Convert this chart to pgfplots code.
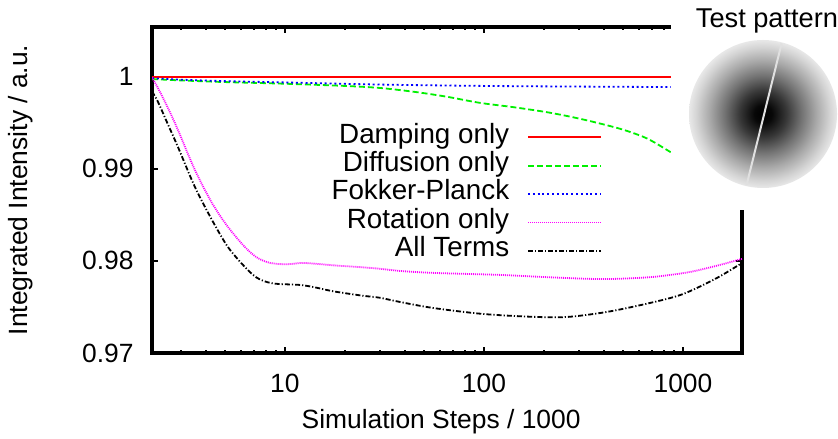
\documentclass[border=0pt]{standalone}
\usepackage{fontspec}
\setmainfont{Liberation Sans}
\usepackage{pgfplots}
\pgfplotsset{compat=1.18}
\definecolor{gpred}{HTML}{FF0000}
\definecolor{gpgreen}{HTML}{00F000}
\definecolor{gpblue}{HTML}{0000FF}
\definecolor{gpmag}{HTML}{FF00FF}
\pgfdeclareradialshading{testpat}{\pgfpoint{0bp}{0bp}}{%
  color(0bp)=(black); color(3bp)=(black!97); color(8bp)=(black!78);
  color(13bp)=(black!55); color(18bp)=(black!34); color(22.5bp)=(black!17);
  color(25bp)=(black!9); color(50bp)=(black!9)}
\begin{document}
\fontsize{13.2}{15}\selectfont
\begin{tikzpicture}
\begin{axis}[
  at={(76pt,42.5pt)}, anchor=south west,
  scale only axis, width=295pt, height=163pt,
  xmode=log, log basis x=10,
  xmin=2.15, xmax=1980, ymin=0.97, ymax=1.0054,
  xtick={10,100,1000}, xticklabels={10,100,1000},
  minor xtick={3,4,5,6,7,8,9,20,30,40,50,60,70,80,90,200,300,400,500,600,700,800,900},
  ytick={0.97,0.98,0.99,1}, yticklabels={0.97,0.98,0.99,1},
  xtick pos=both, ytick pos=both, tick align=inside,
  major tick length=3pt, minor tick length=1.7pt,
  every tick/.style={black, line width=1pt},
  axis line style={line width=1.6pt},
  xticklabel style={anchor=base, yshift=-19.5pt, inner sep=0pt},
  yticklabel style={anchor=east, xshift=-9pt, inner sep=0pt},
  xlabel={Simulation Steps / 1000},
  ylabel={Integrated Intensity / a.u.},
  xlabel style={at={(axis description cs:0.49,-0.2331)}, anchor=base, inner sep=0pt},
  ylabel style={at={(axis description cs:-0.2229,0.5)}, anchor=center},
  legend plot pos=right, legend cell align=right,
  legend image code/.code={\draw[#1] (0pt,0pt) -- (36.5pt,0pt);},
  legend style={draw=none, fill=none, at={(axis description cs:0.7627,0.7055)},
    anchor=north east, inner sep=0pt, outer sep=0pt, row sep=0pt, column sep=9pt,
    font=\fontsize{13.9}{15}\selectfont,
    nodes={inner sep=0pt, text height=10pt, text depth=4.2pt}},
]
\addplot[gpred, line width=0.9pt] coordinates {
  (2.15,1.0000)(10,1.0000)(100,1.0000)(1000,1.0000)(1980,1.0000)};
\addplot[gpgreen, line width=0.9pt, dash pattern=on 3pt off 1.5pt, smooth] coordinates {
  (2.15,0.99975)(3,0.99960)(5,0.99942)(10,0.99924)(20,0.99900)(30,0.99878)
  (45,0.99835)(65,0.99783)(95,0.99717)(140,0.99670)(207,0.99615)(280,0.99560)
  (370,0.99500)(500,0.99425)(659,0.99330)(861,0.99185)(1300,0.98950)(1980,0.98700)};
\addplot[gpblue, line width=0.9pt, dash pattern=on 1pt off 1.4pt, smooth] coordinates {
  (2.15,0.99985)(3,0.99968)(5,0.99952)(10,0.99938)(30,0.99915)(100,0.99900)
  (300,0.99893)(861,0.99888)(1980,0.99885)};
\addplot[gpmag, line width=0.9pt, dash pattern=on 0.5pt off 0.5pt, smooth] coordinates {
  (2.15,0.99990)(2.3,0.99880)(2.6,0.99650)(2.90,0.99424)(3.53,0.98989)(4.30,0.98630)
  (5.17,0.98370)(6.29,0.98152)(7.2,0.98040)(8.2,0.97985)(9.23,0.97967)(10.5,0.97965)
  (12.3,0.97978)(15,0.97965)(18,0.97950)(23,0.97935)(30,0.97915)(37.9,0.97891)
  (55.5,0.97870)(120,0.97848)(200,0.97825)(329,0.97806)(445,0.97804)
  (707,0.97826)(1084,0.97880)(1535,0.97957)(1980,0.98022)};
\addplot[black, line width=0.9pt, dash pattern=on 2.5pt off 1pt on 0.6pt off 1pt, smooth] coordinates {
  (2.15,0.99840)(2.3,0.99730)(2.6,0.99470)(2.90,0.99239)(3.53,0.98804)(4.30,0.98446)
  (5.17,0.98152)(6.29,0.97935)(7.2,0.97820)(8.2,0.97768)(9.23,0.97750)(11.9,0.97739)
  (14,0.97715)(17,0.97675)(20,0.97650)(25,0.97620)(30,0.97600)(37.9,0.97554)
  (55.5,0.97489)(98.9,0.97424)(176,0.97393)(261,0.97391)(415,0.97446)
  (682,0.97543)(1000,0.97640)(1482,0.97815)(1980,0.97978)};
\legend{Damping only,Diffusion only,Fokker-Planck,Rotation only,All Terms}
\end{axis}
% inset test pattern, drawn over the top right corner of the plot
\fill[white] (335.3pt,114pt) rectangle (425pt,225pt);
\shade[shading=testpat] (381.5pt,162pt) circle (37pt);
\draw[white!88!black, line width=1pt] (390.8pt,197.3pt) -- (373.3pt,126.5pt);
\node[anchor=base, inner sep=0pt, font=\fontsize{13.6}{15}\selectfont] at (383.5pt,205pt) {Test pattern};
\pgfresetboundingbox
\useasboundingbox (0,0) rectangle (419pt,219pt);
\end{tikzpicture}
\end{document}
